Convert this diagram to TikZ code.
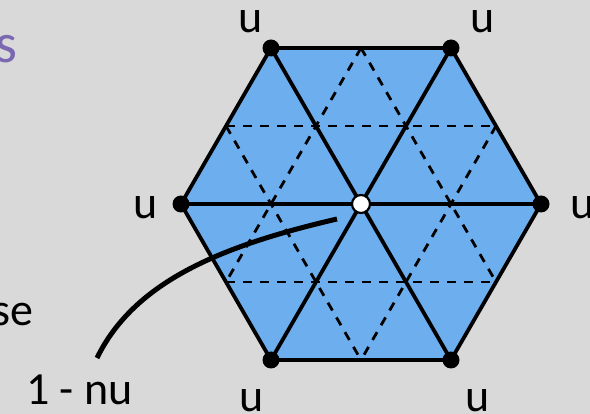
\documentclass[tikz,border=0pt]{standalone}
\usepackage{fontspec}
\setmainfont{Carlito}
\definecolor{bg}{HTML}{D9D9D9}
\definecolor{hexfill}{HTML}{6DAFEE}
\definecolor{titlepurple}{HTML}{7B68B0}
\tikzset{
  solidline/.style={line width=3.8pt, line join=miter},
  dashline/.style={line width=2.8pt, dash pattern=on 9pt off 8pt},
  vdot/.style={circle, fill=black, inner sep=0pt, minimum size=17pt},
  cdot/.style={circle, fill=white, draw=black, line width=2.2pt, inner sep=0pt, minimum size=18pt},
  lbl/.style={inner sep=0pt, anchor=base, font=\fontsize{46}{50}\selectfont},
  leader/.style={line width=5pt, line cap=butt}
}
\begin{document}
\begin{tikzpicture}[x=1pt,y=-1pt]
\fill[bg] (0,0) rectangle (590,414);
\useasboundingbox (0,0) rectangle (590,414);
% hexagon corner coordinates
\coordinate (pA) at (271,48);
\coordinate (pB) at (451,48);
\coordinate (pR) at (541,204);
\coordinate (pD) at (451,360);
\coordinate (pE) at (271,360);
\coordinate (pL) at (181,204);
\coordinate (pC) at (361,204);
% edge midpoints
\coordinate (m1) at (361,48);
\coordinate (m2) at (496,126);
\coordinate (m3) at (496,282);
\coordinate (m4) at (361,360);
\coordinate (m5) at (226,282);
\coordinate (m6) at (226,126);
% fill
\fill[hexfill] (pA) -- (pB) -- (pR) -- (pD) -- (pE) -- (pL) -- cycle;
% dashed hexagram
\draw[dashline] (m6) -- (m2);
\draw[dashline] (m5) -- (m3);
\draw[dashline] (m1) -- (m3);
\draw[dashline] (m6) -- (m4);
\draw[dashline] (m1) -- (m5);
\draw[dashline] (m2) -- (m4);
% solid diagonals
\draw[solidline] (pL) -- (pR);
\draw[solidline] (pA) -- (pD);
\draw[solidline] (pB) -- (pE);
% hexagon outline
\draw[solidline] (pA) -- (pB) -- (pR) -- (pD) -- (pE) -- (pL) -- cycle;
% vertex dots
\node[vdot] (vA) at (pA) {};
\node[vdot] (vB) at (pB) {};
\node[vdot] (vR) at (pR) {};
\node[vdot] (vD) at (pD) {};
\node[vdot] (vE) at (pE) {};
\node[vdot] (vL) at (pL) {};
\node[cdot] (vC) at (pC) {};
% labels
\node[lbl] (uA) at (251,33) {u};
\node[lbl] (uB) at (483,33) {u};
\node[lbl] (uR) at (583,219) {u};
\node[lbl] (uL) at (146,219) {u};
\node[lbl] (uE) at (252,412) {u};
\node[lbl] (uD) at (478,412) {u};
% partial texts at left edge
\node[inner sep=0pt, anchor=base east, text=titlepurple, font=\fontsize{56}{60}\selectfont] (ttl) at (17.5,63) {s};
\node[inner sep=0pt, anchor=base east, font=\fontsize{46}{50}\selectfont] (se) at (34,326) {se};
\node[inner sep=0pt, anchor=base west, font=\fontsize{46}{50}\selectfont] (nu) at (26,405) {1 - nu};
% leader curve
\coordinate (cs) at (97,358);
\coordinate (ce) at (337,219);
\draw[leader] (cs) .. controls (135,280) and (225,245) .. (ce);
\end{tikzpicture}
\end{document}
